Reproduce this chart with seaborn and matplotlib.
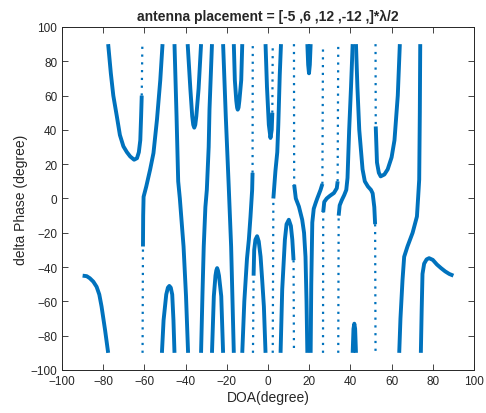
import seaborn as sns
import matplotlib.pyplot as plt
import pandas as pd

## branches of the delta phase curve as (DOA, delta phase) pairs
## solid parts
br_c = [(-90, -45), (-88, -45.3), (-86.5, -46.5), (-84.8, -48.5), (-83.2, -51.5), (-81.9, -56),
        (-80.8, -63), (-79.1, -76.7), (-77.6, -90)]
br_a = [(-77.6, 90), (-76.3, 73), (-75.1, 60), (-73.4, 48), (-71.9, 37), (-70.2, 30.4), (-68.5, 27),
        (-66.9, 24.5), (-65, 22.6), (-63.6, 23.5), (-62.7, 27), (-62.0, 34), (-61.6, 48), (-61.3, 60)]
br_b = [(-60.7, -28), (-60.6, -10), (-60.4, 1), (-59.1, 7), (-57.2, 17), (-55.6, 26.5),
        (-53.9, 46), (-52.3, 69), (-51.2, 90)]
br_d = [(-51.5, -90), (-50.7, -71), (-49.4, -56), (-48.6, -52), (-47.9, -51), (-47.2, -52),
        (-46.5, -56), (-45.9, -71), (-45.4, -90)]
br_e = [(-45.4, 90), (-44.4, 48), (-43.6, 10), (-42.8, 0), (-41.9, -14), (-41, -28), (-39.8, -57), (-38.8, -90)]
br_f = [(-39, 90), (-37.7, 64), (-36.8, 48), (-36.3, 43), (-35.8, 41.3), (-35.3, 43), (-34.8, 48),
        (-33.7, 64), (-32.5, 90)]
br_g = [(-32.5, -90), (-31.8, -55), (-31.2, -28), (-30.4, -5), (-29.7, 5), (-28.8, 30), (-28.4, 52), (-27.2, 90)]
br_i = [(-27.2, -90), (-26.3, -57), (-25.5, -45), (-25.1, -42), (-24.7, -40.6), (-24.3, -42),
        (-23.8, -45), (-22.7, -57), (-21.8, -90)]
br_h = [(-21.8, 90), (-20.5, 48), (-19.1, 8), (-18.5, -10), (-17.9, -28), (-16.6, -90)]
br_u = [(-16.6, 90), (-16.1, 69), (-15.4, 57), (-15.0, 53), (-14.7, 51.8), (-14.3, 53), (-13.9, 57),
        (-13.0, 69), (-12.5, 90)]
br_j = [(-12.5, -90), (-11.5, -60), (-10.2, -35), (-9.3, -24), (-8.5, -10.5), (-7.7, 5), (-7.5, 15)]
br_k = [(-7.0, -45), (-6.7, -30), (-6.1, -24), (-5.3, -22), (-4.5, -25), (-3.6, -34),
        (-2.8, -48), (-2.0, -63), (-1.2, -90)]
br_v = [(-1.2, 90), (-0.5, 65), (0.4, 43), (1.2, 35.3), (1.8, 40), (2.1, 50)]
br_w = [(2.6, 0), (3.6, 16), (4.5, 27), (5.0, 43), (5.7, 72), (6.3, 90)]
br_l = [(6.1, -90), (6.9, -53), (8.2, -24), (9.0, -15), (10.1, -12.4), (11.1, -16), (11.8, -24), (12.4, -36)]
br_m = [(12.7, 8), (13.5, 0), (15, -4.7), (16.6, -12.4), (17.5, -20), (18.2, -34), (18.7, -60), (19.1, -90)]
br_x = [(19.1, 90), (19.5, 78), (19.9, 73), (20.3, 78), (20.7, 90)]
br_n = [(20.7, -90), (21.0, -50), (21.5, -14), (22.2, -6), (23.1, -2.7), (23.9, 0), (25.5, 5), (26.4, 8.5)]
br_o = [(26.8, -8), (27.3, -2), (28.5, 0), (30, 1.5), (32, 3.2), (33.4, 6), (33.8, 10)]
br_p = [(34.3, -10), (34.8, -4), (35.8, -1), (37, 2), (38, 5), (38.6, 12), (39.4, 40), (40.3, 65), (41.1, 90)]
br_r = [(41.1, -90), (41.5, -76), (41.9, -73), (42.3, -76), (42.7, -90)]
br_q = [(42.7, 90), (43.4, 65), (44.3, 40), (45.9, 17), (47, 10), (48.5, 7), (50, 5),
        (50.8, 3), (51.6, -5), (52.0, -15)]
br_s = [(52.3, 42), (52.9, 21), (53.8, 15), (54.7, 12.9), (56.5, 14), (58.1, 17), (60, 24),
        (61.4, 34), (63, 60), (64.0, 90)]
br_t = [(63.7, -90), (64.3, -70), (65.3, -47.5), (66.1, -34), (67.7, -28), (70.2, -20),
        (72.3, -10.5), (72.9, 1), (73.4, 11), (73.7, 50), (73.9, 90)]
br_z = [(74.2, -90), (74.6, -65), (75, -44), (75.8, -38), (77, -35.5), (78.2, -34.8), (80, -35.8),
        (82, -38.5), (84, -40.6), (86, -42.5), (88, -44), (90, -45)]

## steep (sparsely sampled) parts, drawn dotted
dot_a = [(-61.3, 60), (-61.0, 90)]
dot_b = [(-60.9, -90), (-60.7, -28)]
dot_j = [(-7.5, 15), (-7.4, 90)]
dot_k = [(-7.3, -90), (-7.0, -45)]
dot_v = [(2.1, 50), (2.3, 90)]
dot_w = [(2.3, -90), (2.6, 0)]
dot_l = [(12.4, -36), (12.6, -90)]
dot_m = [(12.6, 90), (12.7, 8)]
dot_n = [(26.4, 8.5), (26.7, 90)]
dot_o1 = [(26.7, -90), (26.8, -8)]
dot_o2 = [(33.8, 10), (34.1, 90)]
dot_p = [(34.1, -90), (34.3, -10)]
dot_q = [(52.0, -15), (52.2, -90)]
dot_s = [(52.2, 90), (52.3, 42)]

solid = {'c': br_c, 'a': br_a, 'b': br_b, 'd': br_d, 'e': br_e, 'f': br_f, 'g': br_g,
         'i': br_i, 'h': br_h, 'u': br_u, 'j': br_j, 'k': br_k, 'v': br_v, 'w': br_w,
         'l': br_l, 'm': br_m, 'x': br_x, 'n': br_n, 'o': br_o, 'p': br_p, 'r': br_r,
         'q': br_q, 's': br_s, 't': br_t, 'z': br_z}
dotted = {'a': dot_a, 'b': dot_b, 'j': dot_j, 'k': dot_k, 'v': dot_v, 'w': dot_w, 'l': dot_l,
          'm': dot_m, 'n': dot_n, 'o1': dot_o1, 'o2': dot_o2, 'p': dot_p, 'q': dot_q, 's': dot_s}


def to_frame(branches):
    rows = []
    for name, pts in branches.items():
        for k, (doa, dph) in enumerate(pts):
            rows.append({'branch': name, 'order': k, 'doa': doa, 'dphase': dph})
    return pd.DataFrame(rows)


solid_df = to_frame(solid)
dotted_df = to_frame(dotted)

sns.set_style('ticks', {'xtick.direction': 'in', 'ytick.direction': 'in'})
plt.rcParams['font.family'] = ['Liberation Sans', 'DejaVu Sans']

blue = '#0072BD'
fig = plt.figure(figsize=(4.86, 4.14), dpi=100)
ax = fig.add_axes([0.1276, 0.1039, 0.8477, 0.8285])

sns.lineplot(data=solid_df, x='doa', y='dphase', units='branch', estimator=None, sort=False,
             color=blue, lw=2.8, solid_joinstyle='round', solid_capstyle='butt', ax=ax)
sns.lineplot(data=dotted_df, x='doa', y='dphase', units='branch', estimator=None, sort=False,
             color=blue, lw=1.6, linestyle=(0, (1, 2.5)), ax=ax)

ax.set_xlim(-100, 100)
ax.set_ylim(-100, 100)
ax.set_xticks(range(-100, 101, 20))
ax.set_yticks(range(-100, 101, 20))
ax.tick_params(top=True, right=True, length=4, width=0.6, labelsize=8.5, colors='#262626')
for s in ax.spines.values():
    s.set_linewidth(0.7)
    s.set_color('#262626')

ax.set_title('antenna placement = [-5 ,6 ,12 ,-12 ,]*\u03bb/2', fontsize=10, fontweight='bold', pad=5)
ax.set_xlabel('DOA(degree)', fontsize=10, color='#262626', labelpad=2)
ax.set_ylabel('delta Phase (degree)', fontsize=10, color='#262626', labelpad=2)

fig.savefig('out.png', dpi=100)
